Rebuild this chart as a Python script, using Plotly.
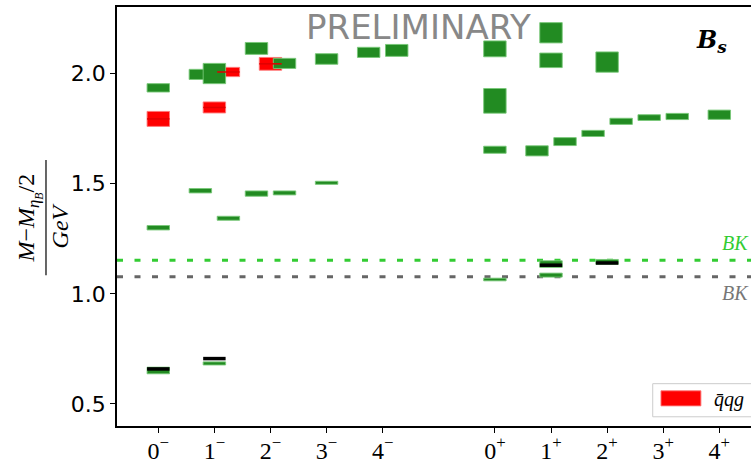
import plotly.graph_objects as go

# ---------------- data ----------------
jp_labels = ["0-", "1-", "2-", "3-", "4-", "0+", "1+", "2+", "3+", "4+"]
jp_index = [0, 1, 2, 3, 4, 6, 7, 8, 9, 10]
tick_text = ["0<sup>−</sup>", "1<sup>−</sup>", "2<sup>−</sup>", "3<sup>−</sup>", "4<sup>−</sup>",
             "0<sup>+</sup>", "1<sup>+</sup>", "2<sup>+</sup>", "3<sup>+</sup>", "4<sup>+</sup>"]

# green states: J^P, slot (-1 left, 0 centre, +1 right), mass, half-error
green_jp = ["0-", "0-", "0-",
            "1-", "1-", "1-", "1-", "1-",
            "2-", "2-", "2-", "2-",
            "3-", "3-",
            "4-", "4-",
            "0+", "0+", "0+", "0+",
            "1+", "1+", "1+", "1+", "1+", "1+",
            "2+", "2+", "2+", "2+",
            "3+", "3+",
            "4+"]
green_slot = [0, 0, 0,
              -1, 0, -1, 1, 0,
              -1, 1, -1, 1,
              0, 0,
              -1, 1,
              0, 0, 0, 0,
              0, 0, -1, 1, 0, 0,
              0, -1, 1, 0,
              -1, 1,
              0]
green_mass = [1.935, 1.300, 0.652,
              1.996, 2.000, 1.468, 1.343, 0.684,
              2.114, 2.046, 1.455, 1.458,
              2.066, 1.504,
              2.096, 2.105,
              2.112, 1.876, 1.654, 1.065,
              2.185, 2.060, 1.649, 1.691, 1.135, 1.085,
              2.052, 1.728, 1.783, 1.145,
              1.800, 1.805,
              1.813]
green_err = [0.019, 0.010, 0.015,
             0.023, 0.046, 0.010, 0.009, 0.007,
             0.027, 0.023, 0.012, 0.009,
             0.024, 0.007,
             0.023, 0.027,
             0.036, 0.056, 0.016, 0.006,
             0.046, 0.033, 0.023, 0.018, 0.015, 0.009,
             0.046, 0.014, 0.014, 0.011,
             0.013, 0.014,
             0.021]

# hybrid (q̄qg) states
red_jp = ["0-", "1-", "1-", "2-"]
red_slot = [0, 0, 1, 0]
red_mass = [1.794, 1.846, 2.007, 2.044]
red_err = [0.034, 0.025, 0.021, 0.029]

# experimental levels
exp_jp = ["0-", "1-", "1+", "2+"]
exp_slot = [0, 0, 0, 0]
exp_mass = [0.659, 0.706, 1.130, 1.140]

# thresholds
thr_names = ["BK", "BK"]
thr_values = [1.152, 1.077]
thr_colors = ["#33cc33", "#666666"]

# ---------------- helpers ----------------
SLOT = 0.25
HALFW = 0.2
pos = dict(zip(jp_labels, jp_index))


def xpos(jps, slots):
    return [pos[j] + s * SLOT for j, s in zip(jps, slots)]


def seg(xs, ys):
    X, Y = [], []
    for x, y in zip(xs, ys):
        X += [x - HALFW, x + HALFW, None]
        Y += [y, y, None]
    return X, Y


fig = go.Figure()

rx = xpos(red_jp, red_slot)
fig.add_trace(go.Bar(
    x=rx, y=[2 * e for e in red_err], base=[m - e for m, e in zip(red_mass, red_err)],
    width=0.4, marker=dict(color="#ff0000", line=dict(color="rgba(255,120,120,0.9)", width=1)),
    name="q\u0304qg", showlegend=False))

gx = xpos(green_jp, green_slot)
fig.add_trace(go.Bar(
    x=gx, y=[2 * e for e in green_err], base=[m - e for m, e in zip(green_mass, green_err)],
    width=0.4, marker=dict(color="#228b22", line=dict(color="rgba(120,200,120,0.9)", width=1)),
    showlegend=False))

# red central lines drawn on top
X, Y = seg(rx, red_mass)
fig.add_trace(go.Scatter(x=X, y=Y, mode="lines", line=dict(color="#e00000", width=1.5),
                         showlegend=False, hoverinfo="skip"))

# experimental black lines
X, Y = seg(xpos(exp_jp, exp_slot), exp_mass)
fig.add_trace(go.Scatter(x=X, y=Y, mode="lines", line=dict(color="black", width=3.5),
                         showlegend=False, hoverinfo="skip"))

# thresholds
for name, v, c in zip(thr_names, thr_values, thr_colors):
    fig.add_hline(y=v, line=dict(color=c, width=3, dash="6px,11.5px"), layer="below")

fig.add_annotation(text="<i>BK</i>", x=1.0, xref="paper", xanchor="right", y=thr_values[0], yref="y",
                   yanchor="bottom", yshift=4, showarrow=False,
                   font=dict(family="Liberation Serif", size=20, color=thr_colors[0]))
fig.add_annotation(text="<i>BK</i>", x=1.0, xref="paper", xanchor="right", y=thr_values[1], yref="y",
                   yanchor="top", yshift=-3, showarrow=False,
                   font=dict(family="Liberation Serif", size=20, color="#777777"))

# PRELIMINARY watermark
fig.add_annotation(text="PRELIMINARY", x=0.475, xref="paper", xanchor="center", y=0.952, yref="paper",
                   yanchor="middle", showarrow=False,
                   font=dict(family="DejaVu Sans", size=34, color="#888888"))

# B_s label
fig.add_annotation(text="<b><i>B</i></b><sub><b><i>s</i></b></sub>", x=0.937, xref="paper", xanchor="center",
                   y=0.92, yref="paper", yanchor="middle", showarrow=False,
                   font=dict(family="DejaVu Serif", size=24, color="black"))

# y-axis label as fraction
fig.add_annotation(text="<i>M</i>−<i>M</i><sub><i>η</i><sub><i>B</i></sub></sub>/2", x=-0.1375, xref="paper",
                   xanchor="center", y=0.497, yref="paper", yanchor="middle", textangle=-90, showarrow=False,
                   font=dict(family="Liberation Serif", size=24, color="black"))
fig.add_annotation(text="<i>GeV</i>", x=-0.0895, xref="paper", xanchor="center",
                   y=0.477, yref="paper", yanchor="middle", textangle=-90, showarrow=False,
                   font=dict(family="Liberation Serif", size=24, color="black"))
fig.add_shape(type="line", xref="paper", yref="paper", x0=-0.112, x1=-0.112, y0=0.36, y1=0.635,
              line=dict(color="black", width=1.2))

# legend (drawn by hand to get the wide matplotlib-style patch)
fig.add_shape(type="rect", xref="paper", yref="paper", x0=0.845, x1=1.02, y0=0.022, y1=0.101,
              line=dict(color="#cccccc", width=1), fillcolor="white", layer="above")
fig.add_shape(type="rect", xref="paper", yref="paper", x0=0.858, x1=0.921, y0=0.048, y1=0.084,
              line=dict(color="rgba(255,120,120,0.9)", width=1), fillcolor="#ff0000", layer="above")
fig.add_annotation(text="<i>q\u0304qg</i>", x=0.939, xref="paper", xanchor="left", y=0.064, yref="paper",
                   yanchor="middle", showarrow=False,
                   font=dict(family="Liberation Serif", size=20, color="black"))

fig.update_layout(
    width=751, height=463,
    margin=dict(l=117, r=0, t=7, b=37),
    paper_bgcolor="white", plot_bgcolor="white",
    barmode="overlay",
    showlegend=False,
    xaxis=dict(range=[-0.736, 10.565], tickmode="array", tickvals=jp_index, ticktext=tick_text,
               showline=True, linecolor="black", linewidth=1.5, mirror=True, automargin=False,
               ticks="outside", ticklen=5, tickcolor="black", showgrid=False, zeroline=False,
               ticklabelstandoff=-3,
               tickfont=dict(family="Liberation Serif", size=24, color="black")),
    yaxis=dict(range=[0.4, 2.302], tickvals=[0.5, 1.0, 1.5, 2.0], ticktext=["0.5", "1.0", "1.5", "2.0"],
               showline=True, linecolor="black", linewidth=1.5, automargin=False,
               ticks="outside", ticklen=5, tickcolor="black", showgrid=False, zeroline=False,
               tickfont=dict(family="DejaVu Sans", size=22, color="black")),
)

fig.write_html("out.html", config={"displayModeBar": False},
               post_script="document.body.style.margin='0';document.body.style.overflow='hidden';")
